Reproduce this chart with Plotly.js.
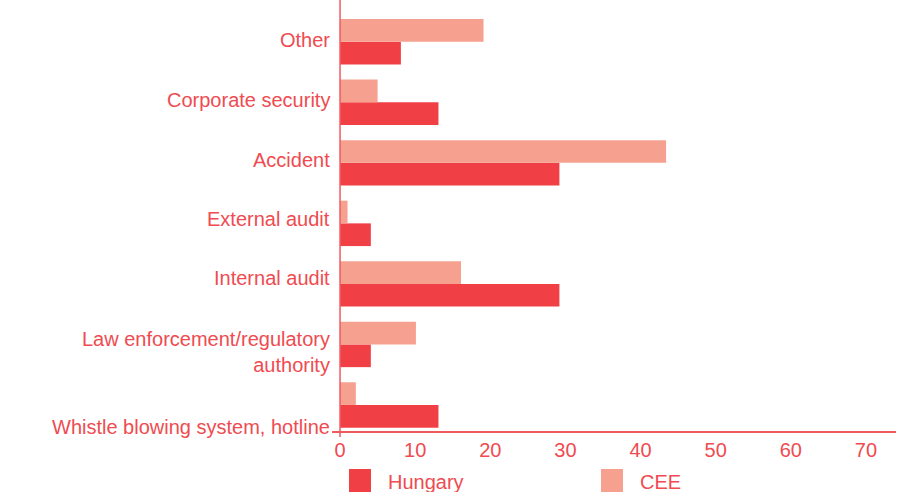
<!DOCTYPE html>
<html>
<head>
<meta charset="utf-8">
<script src="https://cdn.plot.ly/plotly-3.0.1.min.js"></script>
<style>html,body{margin:0;padding:0;background:#fff;}#chart{width:907px;height:492px;}</style>
</head>
<body>
<div id="chart"></div>
<script>
// Categories listed bottom to top
const categories = [
  'Whistle blowing system, hotline',
  'Law enforcement/regulatory authority',
  'Internal audit',
  'External audit',
  'Accident',
  'Corporate security',
  'Other'
];
const labelText = [
  'Whistle blowing system, hotline',
  'Law enforcement/regulatory<br>authority',
  'Internal audit',
  'External audit',
  'Accident',
  'Corporate security',
  'Other'
];
const hungary = [13.1, 4.1, 29.2, 4.1, 29.2, 13.1, 8.1];
const cee = [2.1, 10.1, 16.1, 1.0, 43.4, 5.0, 19.1];
const seriesNames = ['Hungary', 'CEE'];
const xTicks = [0, 10, 20, 30, 40, 50, 60, 70];

const colHU = '#F04045';
const colCEE = '#F6A090';
const txt = '#EF4B50';
const axisCol = '#EF5A5E';
const FONT = 'Liberation Sans, Arial, Helvetica, sans-serif';
const FS = 20;

// pixel helpers for the layout (plot area: x 332..896, y 0..431)
const L = 332, R = 896, T = 0, B = 431;
const px = v => (v - L) / (R - L);
const py = v => (B - v) / (B - T);

// label vertical fine offsets (px, positive = up) to match reference placement
const labelShift = [-22, -8, 6, 4, 3, 2, 2];

const annotations = categories.map((c, i) => ({
  xref: 'paper', yref: 'y', x: 0, y: c, xanchor: 'right', yanchor: 'middle',
  xshift: 0, yshift: labelShift[i], text: labelText[i], showarrow: false,
  align: 'right', font: {family: FONT, size: FS, color: txt}
}));

const legendX = [349, 601];
const legendCols = [colHU, colCEE];
const shapes = [
  {type: 'line', xref: 'x', yref: 'paper', x0: 0, x1: 0, y0: py(437), y1: 1,
   line: {color: axisCol, width: 1.5}}
];
seriesNames.forEach((n, i) => {
  shapes.push({type: 'rect', xref: 'paper', yref: 'paper',
    x0: px(legendX[i]), x1: px(legendX[i] + 22), y0: py(496), y1: py(469),
    fillcolor: legendCols[i], line: {width: 0}});
  annotations.push({xref: 'paper', yref: 'paper', x: px(legendX[i] + 37), y: py(482),
    xanchor: 'left', yanchor: 'middle', text: n, showarrow: false,
    font: {family: FONT, size: FS, color: txt}});
});

const data = [
  {type: 'bar', orientation: 'h', name: seriesNames[0], y: categories, x: hungary,
   marker: {color: colHU}, hoverinfo: 'x+name'},
  {type: 'bar', orientation: 'h', name: seriesNames[1], y: categories, x: cee,
   marker: {color: colCEE}, hoverinfo: 'x+name'}
];

const layout = {
  width: 907, height: 492,
  margin: {l: L, r: 907 - R, t: T, b: 492 - B, pad: 0},
  paper_bgcolor: '#fff', plot_bgcolor: '#fff',
  barmode: 'group', bargap: 0.25, bargroupgap: 0,
  showlegend: false,
  font: {family: FONT, size: FS, color: txt},
  xaxis: {
    range: [-1.07, 74], tickvals: xTicks, ticktext: xTicks.map(String),
    showgrid: false, zeroline: false, showline: true, linecolor: axisCol, linewidth: 1.5,
    ticks: '', tickfont: {family: FONT, size: FS, color: txt}, ticklen: 0,
    fixedrange: true
  },
  yaxis: {
    type: 'category', categoryorder: 'array', categoryarray: categories,
    range: [-0.43, 6.69], showticklabels: false, showgrid: false, zeroline: false,
    showline: false, ticks: '', fixedrange: true
  },
  annotations: annotations,
  shapes: shapes
};

Plotly.newPlot('chart', data, layout, {displayModeBar: false, staticPlot: true});
</script>
</body>
</html>
